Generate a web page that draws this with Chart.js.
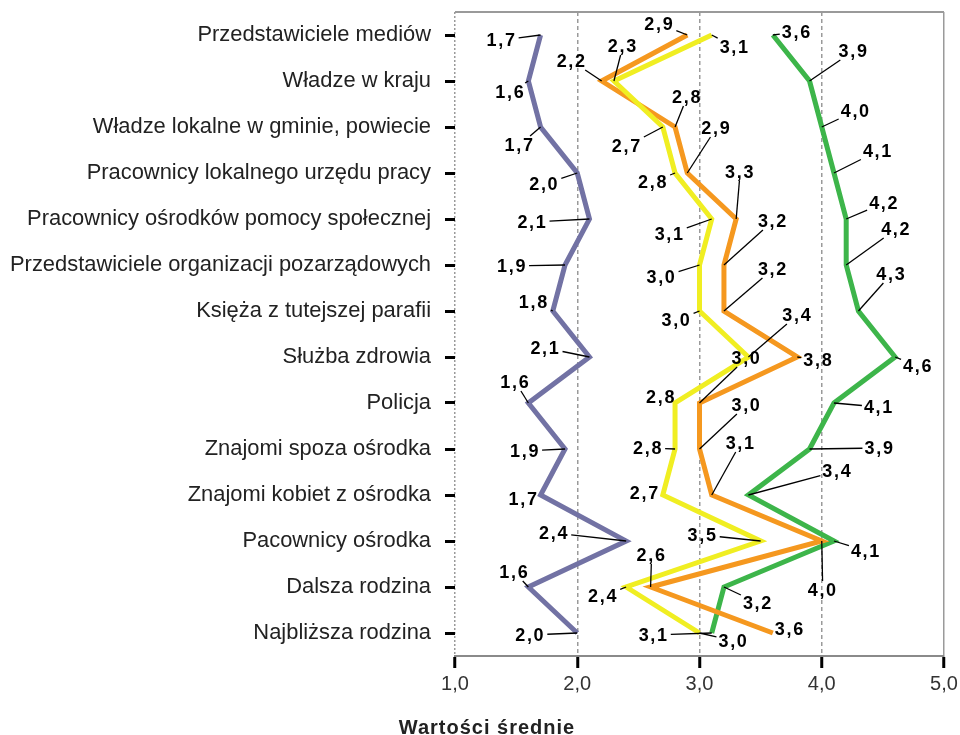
<!DOCTYPE html>
<html lang="pl">
<head>
<meta charset="utf-8">
<script src="https://cdn.jsdelivr.net/npm/chart.js@4.4.1/dist/chart.umd.min.js"></script>
<style>
    html, body { margin: 0; padding: 0; background: #fff; }
    #chart1 { display: block; }
</style>
</head>
<body>
<canvas id="chart1" width="960" height="735"></canvas>
<script>
const categories = [
    'Przedstawiciele mediów',
    'Władze w kraju',
    'Władze lokalne w gminie, powiecie',
    'Pracownicy lokalnego urzędu pracy',
    'Pracownicy ośrodków pomocy społecznej',
    'Przedstawiciele organizacji pozarządowych',
    'Księża z tutejszej parafii',
    'Służba zdrowia',
    'Policja',
    'Znajomi spoza ośrodka',
    'Znajomi kobiet z ośrodka',
    'Pacownicy ośrodka',
    'Dalsza rodzina',
    'Najbliższa rodzina'
];
const valuesPurple = [1.7, 1.6, 1.7, 2.0, 2.1, 1.9, 1.8, 2.1, 1.6, 1.9, 1.7, 2.4, 1.6, 2.0];
const valuesYellow = [3.1, 2.3, 2.7, 2.8, 3.1, 3.0, 3.0, 3.4, 2.8, 2.8, 2.7, 3.5, 2.4, 3.0];
const valuesOrange = [2.9, 2.2, 2.8, 2.9, 3.3, 3.2, 3.2, 3.8, 3.0, 3.0, 3.1, 4.0, 2.6, 3.6];
const valuesGreen = [3.6, 3.9, 4.0, 4.1, 4.2, 4.2, 4.3, 4.6, 4.1, 3.9, 3.4, 4.1, 3.2, 3.1];
const xTickLabels = ['1,0', '2,0', '3,0', '4,0', '5,0'];
const axisTitle = 'Wartości średnie';

// where each value label sits, relative to its point (px)
const shiftPurple = [[-39,5],[-18,11],[-21,18],[-33,11],[-57,3],[-53,1],[-19,-9],[-44,-9],[-13,-21],[-40,2],[-17,4],[-72,-8],[-14,-15],[-47,2]];
const shiftYellow = [[23,12],[9,-35],[-36,19],[-22,9],[-42,15],[-38,12],[-23,9],[49,-42],[-14,-6],[-27,-1],[-18,-2],[-58,-6],[-23,9],[34,8]];
const shiftOrange = [[-28,-11],[-30,-20],[12,-30],[29,-45],[4,-47],[49,-44],[49,-42],[21,3],[47,-45],[47,-44],[29,-52],[1,49],[1,-32],[17,-4]];
const shiftGreen = [[24,-3],[44,-30],[34,-16],[44,-22],[38,-16],[50,-36],[33,-37],[23,9],[45,4],[70,-1],[89,-24],[32,10],[34,16],[-58,2]];

const FONT = '"Liberation Sans", Arial, Helvetica, sans-serif';
Chart.defaults.font.family = FONT;

const valueLabels = {
    id: 'valueLabels',
    afterDatasetsDraw(chart) {
        const ctx = chart.ctx;
        ctx.save();
        ctx.font = 'bold 18px ' + FONT;
        ctx.letterSpacing = '1.7px';
        ctx.textAlign = 'center';
        ctx.textBaseline = 'middle';
        ctx.fillStyle = '#000';
        ctx.strokeStyle = '#000';
        ctx.lineWidth = 1.3;
        chart.data.datasets.forEach((ds, di) => {
            const meta = chart.getDatasetMeta(di);
            meta.data.forEach((pt, i) => {
                const sh = ds.labelShift[i];
                const lx = pt.x + sh[0];
                const ly = pt.y + sh[1];
                const text = ds.data[i].toFixed(1).replace('.', ',');
                const hw = ctx.measureText(text).width / 2 + 2;
                const hh = 9;
                const dx = pt.x - lx, dy = pt.y - ly;
                const t = Math.min(dx ? hw / Math.abs(dx) : Infinity, dy ? hh / Math.abs(dy) : Infinity);
                if (t < 0.9) {
                    ctx.beginPath();
                    ctx.moveTo(lx + dx * t, ly + dy * t);
                    ctx.lineTo(pt.x, pt.y);
                    ctx.stroke();
                }
                ctx.fillText(text, lx, ly + 1);
            });
        });
        ctx.restore();
    }
};

const frameAndTitle = {
    id: 'frameAndTitle',
    afterDraw(chart) {
        const ctx = chart.ctx;
        const area = chart.chartArea;
        ctx.save();
        ctx.strokeStyle = '#9a9a9a';
        ctx.lineWidth = 2;
        ctx.beginPath();
        ctx.moveTo(area.left, area.top);
        ctx.lineTo(area.right, area.top);
        ctx.stroke();
        ctx.font = 'bold 20px ' + FONT;
        ctx.letterSpacing = '1px';
        ctx.fillStyle = '#222';
        ctx.textAlign = 'center';
        ctx.textBaseline = 'middle';
        ctx.fillText(axisTitle, area.left + 32, 728);
        ctx.restore();
    }
};

function makeSeries(label, values, color, shift) {
    return {
        label: label,
        data: values,
        borderColor: color,
        backgroundColor: color,
        borderWidth: 5,
        borderJoinStyle: 'miter',
        pointRadius: 0,
        fill: false,
        tension: 0,
        labelShift: shift
    };
}

var chartObj = new Chart(document.getElementById('chart1').getContext('2d'), {
    type: 'line',
    data: {
        labels: categories,
        datasets: [
            makeSeries('seria 1', valuesPurple, '#7272a4', shiftPurple),
            makeSeries('seria 2', valuesYellow, '#f0ee22', shiftYellow),
            makeSeries('seria 3', valuesOrange, '#f5981f', shiftOrange),
            makeSeries('seria 4', valuesGreen, '#3db54a', shiftGreen)
        ]
    },
    options: {
        indexAxis: 'y',
        responsive: false,
        animation: false,
        layout: { padding: { left: 0, right: 16, top: 12, bottom: 0 } },
        plugins: {
            legend: { display: false },
            tooltip: { enabled: false }
        },
        scales: {
            x: {
                type: 'linear',
                min: 1,
                max: 5,
                afterFit: (scale) => {
                    scale.height = 79;
                    scale.paddingLeft = 0;
                    scale.paddingRight = 0;
                },
                grid: {
                    color: '#9a9a9a',
                    lineWidth: 1.5,
                    tickColor: '#000',
                    tickWidth: 3,
                    tickLength: 12
                },
                border: {
                    display: true,
                    color: '#8a8a8a',
                    width: 2,
                    dash: (c) => {
                        if (!c.tick) return [];
                        if (c.tick.value === 5) return [];
                        if (c.tick.value === 1) return [2, 2];
                        return [4, 3];
                    }
                },
                ticks: {
                    stepSize: 1,
                    padding: 4,
                    color: '#333',
                    font: { size: 20 },
                    maxRotation: 0,
                    callback: (v) => xTickLabels[v - 1]
                }
            },
            y: {
                type: 'category',
                offset: true,
                afterFit: (scale) => {
                    scale.width = 455;
                    scale.paddingTop = 0;
                    scale.paddingBottom = 0;
                },
                grid: {
                    offset: false,
                    drawOnChartArea: false,
                    tickColor: '#000',
                    tickWidth: 3,
                    tickLength: 10
                },
                border: { display: false },
                ticks: {
                    padding: 14,
                    color: '#222',
                    font: { size: 21.9 },
                    autoSkip: false
                }
            }
        }
    },
    plugins: [valueLabels, frameAndTitle]
});
</script>
</body>
</html>
